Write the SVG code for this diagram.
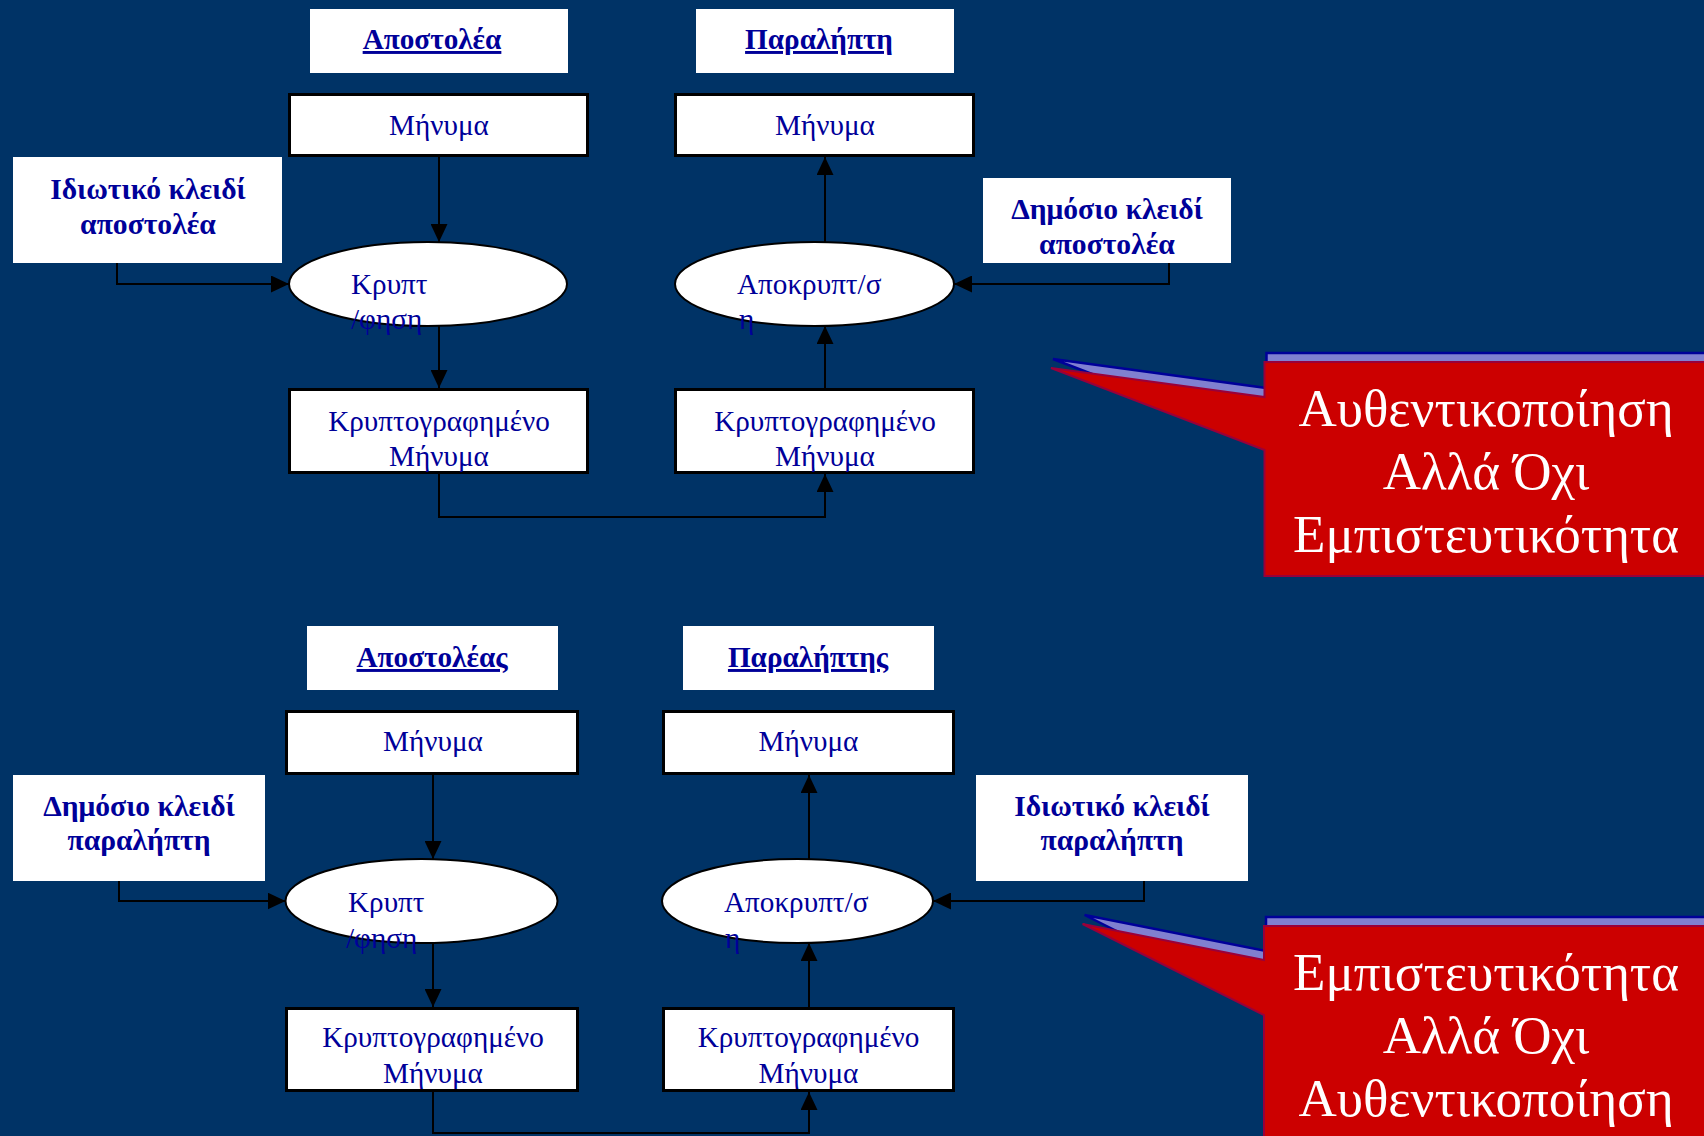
<svg xmlns="http://www.w3.org/2000/svg" xmlns:xlink="http://www.w3.org/1999/xlink" width="1704" height="1136" viewBox="0 0 1704 1136">
  <style>
    .lbl { font-family: "Liberation Serif", "Times New Roman", serif; font-size: 29.2px; fill: #000099; text-anchor: middle; }
    .free { text-anchor: start; }
    .key { font-weight: bold; font-size: 29.6px; }
    .hdr { font-weight: bold; text-decoration: underline; }
    .box { fill: #ffffff; stroke: #000000; stroke-width: 3; }
    .plain { fill: #ffffff; }
    .ell { fill: #ffffff; stroke: #000000; stroke-width: 2; }
    .conn { fill: none; stroke: #000000; stroke-width: 2; marker-end: url(#arrow); }
    .shadow { fill: #8080d0; stroke: #000099; stroke-width: 2.5; }
    .bubble { fill: #cc0000; stroke: #99003a; stroke-width: 2; }
    .note { font-family: "Liberation Serif", "Times New Roman", serif; font-size: 53px; fill: #ffffff; text-anchor: middle; }
  </style>
  <defs>
    <marker id="arrow" markerUnits="userSpaceOnUse" markerWidth="18" markerHeight="17" refX="18" refY="8.5" orient="auto">
      <path d="M0,0 L18,8.5 L0,17 Z" fill="#000000"/>
    </marker>
    <polygon id="bubble-top" points="1264.5,362 1712,362 1712,576 1264.5,576 1264.5,450 1051,368 1264.5,397"/>
    <polygon id="bubble-bottom" points="1264,926 1712,926 1712,1142 1264,1142 1264,1015 1082.6,924 1264,960"/>
  </defs>

  <rect x="0" y="0" width="1704" height="1136" fill="#003366"/>

  <!-- upper scheme: signing with the sender's private key -->
  <g id="hdr-sender-1">
    <rect class="plain" x="310" y="9" width="258" height="64"/>
    <text class="lbl hdr" x="432" y="49">Αποστολέα</text>
  </g>
  <g id="hdr-receiver-1">
    <rect class="plain" x="696" y="9" width="258" height="64"/>
    <text class="lbl hdr" x="819" y="49">Παραλήπτη</text>
  </g>
  <g id="msg-sender-1">
    <rect class="box" x="289.5" y="94.5" width="298" height="61"/>
    <text class="lbl" x="439" y="135">Μήνυμα</text>
  </g>
  <g id="msg-receiver-1">
    <rect class="box" x="675.5" y="94.5" width="298" height="61"/>
    <text class="lbl" x="825" y="135">Μήνυμα</text>
  </g>
  <g id="key-private-sender">
    <rect class="plain" x="13" y="157" width="269" height="106"/>
    <text class="lbl key" x="148" y="199">Ιδιωτικό κλειδί</text>
    <text class="lbl key" x="148" y="234">αποστολέα</text>
  </g>
  <g id="key-public-sender">
    <rect class="plain" x="983" y="178" width="248" height="85"/>
    <text class="lbl key" x="1107" y="219">Δημόσιο κλειδί</text>
    <text class="lbl key" x="1107" y="254">αποστολέα</text>
  </g>
  <g id="encrypt-1">
    <ellipse class="ell" cx="428" cy="284" rx="139" ry="42"/>
    <text class="lbl free" x="351" y="294">Κρυπτ</text>
    <text class="lbl free" x="351" y="329">/φηση</text>
  </g>
  <g id="decrypt-1">
    <ellipse class="ell" cx="814.5" cy="284" rx="139.5" ry="42"/>
    <text class="lbl free" x="737" y="294">Αποκρυπτ/σ</text>
    <text class="lbl free" x="739" y="329">η</text>
  </g>
  <g id="cipher-sender-1">
    <rect class="box" x="289.5" y="389.5" width="298" height="83"/>
    <text class="lbl" x="439" y="431">Κρυπτογραφημένο</text>
    <text class="lbl" x="439" y="466">Μήνυμα</text>
  </g>
  <g id="cipher-receiver-1">
    <rect class="box" x="675.5" y="389.5" width="298" height="83"/>
    <text class="lbl" x="825" y="431">Κρυπτογραφημένο</text>
    <text class="lbl" x="825" y="466">Μήνυμα</text>
  </g>

  <!-- lower scheme: encrypting with the receiver's public key -->
  <g id="hdr-sender-2">
    <rect class="plain" x="307" y="626" width="251" height="64"/>
    <text class="lbl hdr" x="432" y="667">Αποστολέας</text>
  </g>
  <g id="hdr-receiver-2">
    <rect class="plain" x="683" y="626" width="251" height="64"/>
    <text class="lbl hdr" x="808" y="667">Παραλήπτης</text>
  </g>
  <g id="msg-sender-2">
    <rect class="box" x="286.5" y="711.5" width="291" height="62"/>
    <text class="lbl" x="433" y="751">Μήνυμα</text>
  </g>
  <g id="msg-receiver-2">
    <rect class="box" x="663.5" y="711.5" width="290" height="62"/>
    <text class="lbl" x="808.5" y="751">Μήνυμα</text>
  </g>
  <g id="key-public-receiver">
    <rect class="plain" x="13" y="775" width="252" height="106"/>
    <text class="lbl key" x="139" y="816">Δημόσιο κλειδί</text>
    <text class="lbl key" x="139" y="850">παραλήπτη</text>
  </g>
  <g id="key-private-receiver">
    <rect class="plain" x="976" y="775" width="272" height="106"/>
    <text class="lbl key" x="1112" y="816">Ιδιωτικό κλειδί</text>
    <text class="lbl key" x="1112" y="850">παραλήπτη</text>
  </g>
  <g id="encrypt-2">
    <ellipse class="ell" cx="421.5" cy="901" rx="136" ry="42"/>
    <text class="lbl free" x="348" y="912">Κρυπτ</text>
    <text class="lbl free" x="346" y="948">/φηση</text>
  </g>
  <g id="decrypt-2">
    <ellipse class="ell" cx="797.5" cy="901" rx="135.5" ry="42"/>
    <text class="lbl free" x="724" y="912">Αποκρυπτ/σ</text>
    <text class="lbl free" x="725" y="948">η</text>
  </g>
  <g id="cipher-sender-2">
    <rect class="box" x="286.5" y="1008.5" width="291" height="82"/>
    <text class="lbl" x="433" y="1047">Κρυπτογραφημένο</text>
    <text class="lbl" x="433" y="1083">Μήνυμα</text>
  </g>
  <g id="cipher-receiver-2">
    <rect class="box" x="663.5" y="1008.5" width="290" height="82"/>
    <text class="lbl" x="808.5" y="1047">Κρυπτογραφημένο</text>
    <text class="lbl" x="808.5" y="1083">Μήνυμα</text>
  </g>

  <g id="connectors">
    <path class="conn" d="M439,157 V242"/>
    <path class="conn" d="M117,263 V284 H289"/>
    <path class="conn" d="M439,326 V388"/>
    <path class="conn" d="M439,474 V517 H825 V474"/>
    <path class="conn" d="M825,242 V157"/>
    <path class="conn" d="M1169,263 V284 H954"/>
    <path class="conn" d="M825,388 V326"/>

    <path class="conn" d="M433,775 V859"/>
    <path class="conn" d="M119,881 V901 H285.5"/>
    <path class="conn" d="M433,943 V1007"/>
    <path class="conn" d="M433,1092 V1133 H809 V1092"/>
    <path class="conn" d="M809,859 V775"/>
    <path class="conn" d="M1144,881 V901 H933"/>
    <path class="conn" d="M809,1007 V943"/>
  </g>

  <!-- callouts -->
  <g id="callout-top">
    <use xlink:href="#bubble-top" class="shadow" transform="translate(2,-9)"/>
    <use xlink:href="#bubble-top" class="bubble"/>
    <text class="note" x="1486" y="426">Αυθεντικοποίηση</text>
    <text class="note" x="1486" y="489">Αλλά Όχι</text>
    <text class="note" x="1486" y="552">Εμπιστευτικότητα</text>
  </g>
  <g id="callout-bottom">
    <use xlink:href="#bubble-bottom" class="shadow" transform="translate(2,-9)"/>
    <use xlink:href="#bubble-bottom" class="bubble"/>
    <text class="note" x="1486" y="990">Εμπιστευτικότητα</text>
    <text class="note" x="1486" y="1053">Αλλά Όχι</text>
    <text class="note" x="1486" y="1116">Αυθεντικοποίηση</text>
  </g>
</svg>
